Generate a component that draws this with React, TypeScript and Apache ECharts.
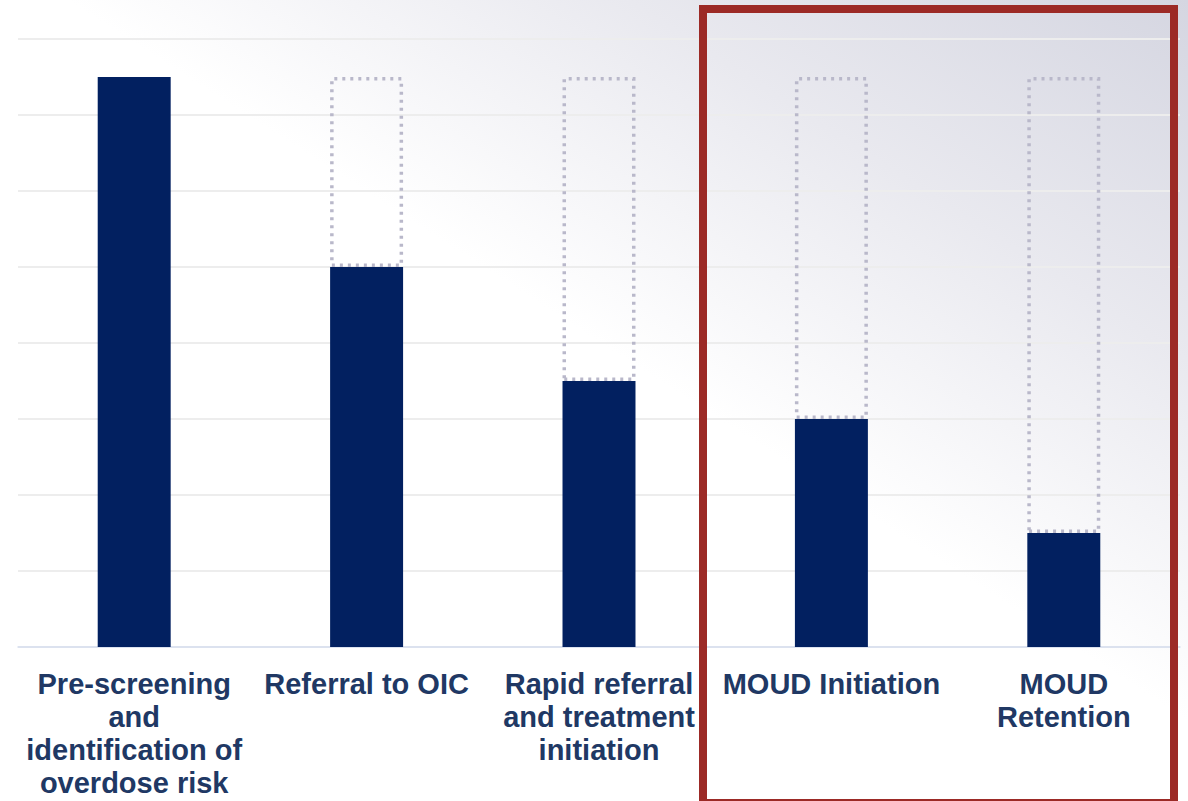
import React, { useEffect, useRef } from "react";
import * as echarts from "echarts";

const categories = [
  "Pre-screening\nand\nidentification of\noverdose risk",
  "Referral to OIC",
  "Rapid referral\nand treatment\ninitiation",
  "MOUD Initiation",
  "MOUD\nRetention",
];
const values = [7.5, 5, 3.5, 3, 1.5];
const fullValue = 7.5;
const remainder = values.map((v) => (fullValue - v > 0 ? fullValue - v : null));
const yMin = 0;
const yMax = 8;
const yInterval = 1;

export default function App() {
  const ref = useRef<HTMLDivElement>(null);
  useEffect(() => {
    if (!ref.current) return;
    const chart = echarts.init(ref.current, null, { renderer: "svg" });
    chart.setOption({
      animation: false,
      backgroundColor: {
        type: "linear",
        global: true,
        x: 1188,
        y: 0,
        x2: 860,
        y2: 510,
        colorStops: [
          { offset: 0, color: "#d5d6e1" },
          { offset: 0.5, color: "#e9e9ef" },
          { offset: 1, color: "#ffffff" },
        ],
      },
      grid: { left: 18, right: 8, top: 39, bottom: 154, containLabel: false },
      xAxis: {
        type: "category",
        data: categories,
        axisLine: { show: true, lineStyle: { color: "#d6deef", width: 1.5 } },
        axisTick: { show: false },
        axisLabel: {
          interval: 0,
          margin: 20,
          color: "#203864",
          fontFamily: "'Liberation Sans', Arial, sans-serif",
          fontWeight: "bold",
          fontSize: 29,
          lineHeight: 33,
          align: "center",
        },
      },
      yAxis: {
        type: "value",
        min: yMin,
        max: yMax,
        interval: yInterval,
        axisLabel: { show: false },
        axisLine: { show: false },
        axisTick: { show: false },
        splitLine: { show: true, lineStyle: { color: "#ededed", width: 2 } },
      },
      series: [
        {
          type: "bar",
          stack: "total",
          data: values,
          barWidth: "31.4%",
          itemStyle: { color: "#022060" },
        },
        {
          type: "bar",
          stack: "total",
          data: remainder,
          barWidth: "31.4%",
          itemStyle: {
            color: "rgba(0,0,0,0)",
            borderColor: "#b9b8ca",
            borderWidth: 3.5,
            borderType: [3, 5],
          },
        },
      ],
      graphic: [
        {
          type: "rect",
          shape: { x: 703, y: 9, width: 471, height: 794 },
          style: { fill: "none", stroke: "#9c2a26", lineWidth: 8 },
          z: 100,
        },
      ],
    });
    return () => chart.dispose();
  }, []);
  return (
    <div
      ref={ref}
      style={{ position: "fixed", left: 0, top: 0, width: 1188, height: 801 }}
    />
  );
}
